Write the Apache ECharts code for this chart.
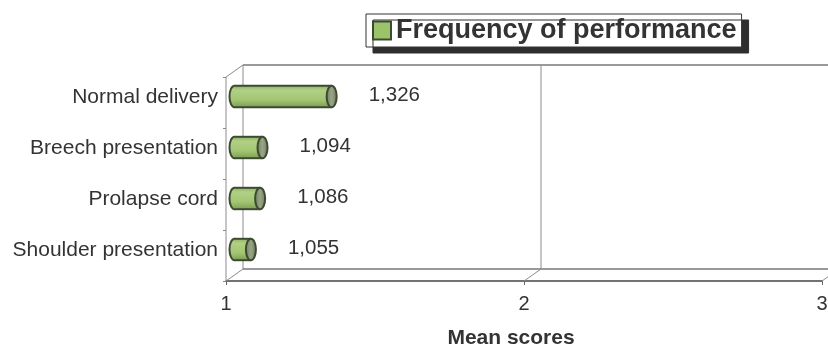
<!DOCTYPE html>
<html>
<head>
<meta charset="utf-8">
<script src="https://cdn.jsdelivr.net/npm/echarts@6/dist/echarts.min.js"></script>
<style>
  html, body { margin: 0; padding: 0; background: #fff; }
  #chart { width: 828px; height: 350px; }
</style>
</head>
<body>
<div id="chart"></div>
<script>
// Procedures and their mean scores
const categories = ['Normal delivery', 'Breech presentation', 'Prolapse cord', 'Shoulder presentation'];
const meanScores = [1.326, 1.094, 1.086, 1.055];
const xTicks = [1, 2, 3];
const seriesName = 'Frequency of performance';
const axisTitle = 'Mean scores';

const FONT = "'Liberation Sans', Arial, sans-serif";
const DEPTH_X = 17, DEPTH_Y = -12;     // offset of the back wall from the front plane
const MID_X = 8.5, MID_Y = -6;         // bars sit halfway into the box

const fmt = v => v.toFixed(3).replace('.', ',');

const chart = echarts.init(document.getElementById('chart'), null, { renderer: 'canvas' });

// 3D box: left wall, floor and back wall with gridlines
function renderFrame(params, api) {
  const cs = params.coordSys;
  const x0 = cs.x, top = cs.y, bottom = cs.y + cs.height, right = cs.x + cs.width;
  const stroke = { stroke: '#8c8c8c', lineWidth: 1, fill: null };
  const line = (a, b, st) => ({ type: 'line', shape: { x1: a[0], y1: a[1], x2: b[0], y2: b[1] }, style: st || stroke, silent: true });
  const ch = [];
  ch.push(line([x0, top], [x0, bottom]));
  ch.push(line([x0, top], [x0 + DEPTH_X, top + DEPTH_Y]));
  ch.push(line([x0, bottom], [x0 + DEPTH_X, bottom + DEPTH_Y]));
  ch.push(line([x0 + DEPTH_X, top + DEPTH_Y], [x0 + DEPTH_X, bottom + DEPTH_Y]));
  ch.push(line([x0 + DEPTH_X, top + DEPTH_Y], [right + DEPTH_X, top + DEPTH_Y], { stroke: '#777', lineWidth: 1.3, fill: null }));
  ch.push(line([x0 + DEPTH_X, bottom + DEPTH_Y], [right + DEPTH_X, bottom + DEPTH_Y], { stroke: '#777', lineWidth: 1.3, fill: null }));
  xTicks.forEach(t => {
    if (t === xTicks[0]) return;
    const x = api.coord([t, 0])[0];
    ch.push(line([x + DEPTH_X, top + DEPTH_Y], [x + DEPTH_X, bottom + DEPTH_Y]));
    ch.push(line([x, bottom], [x + DEPTH_X, bottom + DEPTH_Y]));
  });
  return { type: 'group', children: ch };
}

// Horizontal cylinder for each mean score
function renderCylinder(params, api) {
  const idx = api.value(1);
  const v = api.value(0);
  const start = api.coord([xTicks[0], idx]);
  const end = api.coord([v, idx]);
  const sx = start[0] + MID_X, ex = end[0] + MID_X, cy = start[1] + MID_Y;
  const h = api.size([0, 1])[1] * 0.42;
  const rx = 5, ry = h / 2;
  const outline = '#3d4a32';
  const bodyFill = new echarts.graphic.LinearGradient(0, 0, 0, 1, [
    { offset: 0, color: '#8fb060' },
    { offset: 0.2, color: '#b1d085' },
    { offset: 0.65, color: '#a3c673' },
    { offset: 1, color: '#7e9e52' }
  ]);
  const capFill = new echarts.graphic.LinearGradient(0, 0, 1, 0, [
    { offset: 0, color: '#6f7d5c' },
    { offset: 0.5, color: '#9aa588' },
    { offset: 1, color: '#6c7858' }
  ]);
  return {
    type: 'group',
    children: [
      { type: 'ellipse', shape: { cx: sx, cy: cy, rx: rx, ry: ry }, style: { fill: bodyFill, stroke: outline, lineWidth: 2 } },
      { type: 'rect', shape: { x: sx, y: cy - ry, width: ex - sx, height: h }, style: { fill: bodyFill } },
      { type: 'line', shape: { x1: sx, y1: cy - ry, x2: ex, y2: cy - ry }, style: { stroke: outline, lineWidth: 2 } },
      { type: 'line', shape: { x1: sx, y1: cy + ry, x2: ex, y2: cy + ry }, style: { stroke: outline, lineWidth: 2 } },
      { type: 'ellipse', shape: { cx: ex, cy: cy, rx: rx, ry: ry }, style: { fill: capFill, stroke: outline, lineWidth: 2 } },
      { type: 'text', style: { x: ex + 37, y: cy - 1.5, text: fmt(v), fill: '#333', font: '20.5px ' + FONT, align: 'left', verticalAlign: 'middle' } }
    ]
  };
}

const option = {
  animation: false,
  backgroundColor: '#fff',
  textStyle: { fontFamily: FONT },
  legend: {
    left: 366, top: 14,
    padding: [3, 5, 3, 6],
    itemWidth: 18, itemHeight: 18,
    backgroundColor: '#fff',
    borderColor: '#333', borderWidth: 1,
    shadowColor: '#2e2e2e', shadowBlur: 0, shadowOffsetX: 7, shadowOffsetY: 6,
    textStyle: { fontSize: 27, fontWeight: 'bold', color: '#333', fontFamily: FONT, padding: [3, 0, 0, 0] },
    data: [{ name: seriesName, icon: 'rect', itemStyle: { color: '#9bc46a', borderColor: '#3d4a32', borderWidth: 2 } }]
  },
  grid: { left: 226, right: 6, top: 77, bottom: 69, containLabel: false, outerBoundsMode: 'none' },
  xAxis: {
    type: 'value', min: xTicks[0], max: xTicks[xTicks.length - 1], interval: 1,
    axisLine: { show: true, lineStyle: { color: '#444', width: 1.6 } },
    axisTick: { show: true, length: 4, lineStyle: { color: '#666' } },
    splitLine: { show: false },
    axisLabel: { fontSize: 20, color: '#333', margin: 13, fontFamily: FONT },
    name: axisTitle, nameLocation: 'middle', nameGap: 47,
    nameTextStyle: { fontSize: 21, fontWeight: 'bold', color: '#333', fontFamily: FONT, padding: [0, 26, 0, 0] }
  },
  yAxis: {
    type: 'category', inverse: true, data: categories,
    axisLine: { show: false },
    axisTick: { show: true, length: 3, lineStyle: { color: '#888' } },
    // labels sit level with the cylinders, which are set back into the box
    axisLabel: { fontSize: 21, color: '#333', margin: 8, fontFamily: FONT, verticalAlign: 'bottom', lineHeight: 11 }
  },
  series: [
    { type: 'custom', name: 'frame', silent: true, z: 1, renderItem: renderFrame, data: [[xTicks[0], 0]] },
    {
      type: 'custom', name: seriesName, z: 5, renderItem: renderCylinder,
      itemStyle: { color: '#9bc46a' },
      encode: { x: 0, y: 1 },
      data: meanScores.map((v, i) => [v, i])
    }
  ]
};
chart.setOption(option);
</script>
</body>
</html>
